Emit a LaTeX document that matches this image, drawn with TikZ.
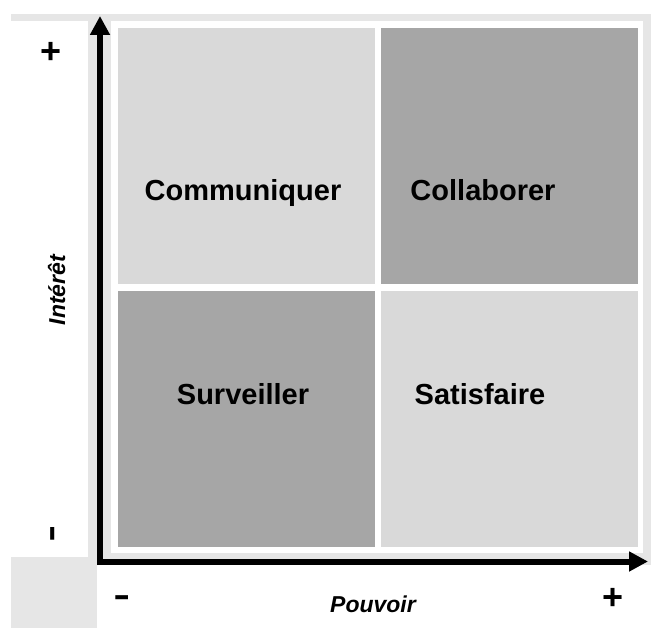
\documentclass[tikz,border=0pt]{standalone}
\usepackage{fontspec}
\setmainfont{Liberation Sans}
\usetikzlibrary{arrows.meta}
\definecolor{bggray}{HTML}{E6E6E6}
\definecolor{lightq}{HTML}{D9D9D9}
\definecolor{darkq}{HTML}{A6A6A6}

\begin{document}
\begin{tikzpicture}[x=1pt,y=-1pt,
  axis/.style={line width=6pt,-{Triangle[length=19pt,width=19pt]}},
  quad/.style={font=\fontsize{29}{32}\selectfont\bfseries,anchor=base,inner sep=0pt},
  axlabel/.style={font=\fontsize{23}{26}\selectfont\bfseries\itshape,anchor=base,inner sep=0pt},
  plus/.style={font=\fontsize{36}{40}\selectfont\bfseries,inner sep=0pt},
  minus/.style={font=\fontsize{52}{54}\selectfont,inner sep=0pt}]
\useasboundingbox (0,0) rectangle (651,628);
% The gray area
\fill[bggray] (11,14) rectangle (651,628);
\fill[white] (11,21) rectangle (88,557);
\fill[white] (97,565) rectangle (651,628);
\fill[white] (111,21) rectangle (643,553);
% The four boxes
%     top row
\fill[lightq] (118,28) rectangle (375,284);
\fill[darkq] (381,28) rectangle (638,284);
%     bottom row
\fill[darkq] (118,291) rectangle (375,547);
\fill[lightq] (381,291) rectangle (638,547);
\node[quad] (comm) at (243,201) {Communiquer};
\node[quad] (coll) at (483,201) {Collaborer};
\node[quad] (surv) at (243,405) {Surveiller};
\node[quad] (sat) at (480,405) {Satisfaire};
% The axes
\coordinate (ystart) at (100,565);
\coordinate (ytip) at (100,16);
\coordinate (xstart) at (97,561.5);
\coordinate (xtip) at (648,561.5);
\draw[axis] (ystart) -- (ytip);
\draw[axis] (xstart) -- (xtip);
\node[axlabel, rotate=90] (interet) at (65,290) {Intérêt};
\node[axlabel] (pouvoir) at (373,612) {Pouvoir};
\node[plus] (yplus) at (51,53) {+};
\node[minus, rotate=90] (yminus) at (59,534) {-};
\node[minus] (xminus) at (122,604) {-};
\node[plus] (xplus) at (613,599) {+};
\end{tikzpicture}
\end{document}
